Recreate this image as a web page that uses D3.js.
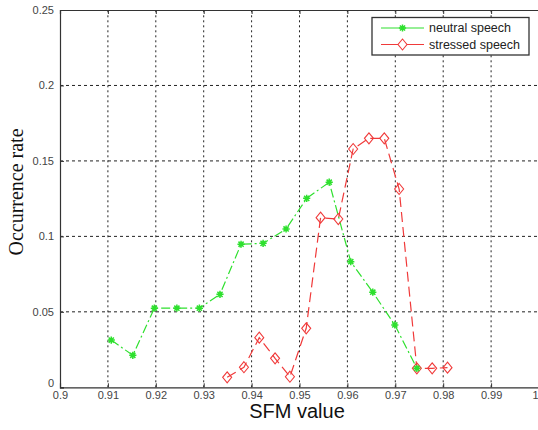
<!DOCTYPE html>
<html>
<head>
<meta charset="utf-8">
<script src="https://cdn.jsdelivr.net/npm/d3@7"></script>
<style>
  body { margin: 0; background: #fff; }
  svg { display: block; }
</style>
</head>
<body>
<div id="chart"></div>
<script>
// values
var neutralX = [0.9107, 0.9152, 0.9197, 0.9244, 0.9291, 0.9334, 0.9378, 0.9424, 0.9472, 0.9515, 0.9562, 0.9607, 0.9653, 0.9699, 0.9745]
var neutralY = [0.0313, 0.0212, 0.0524, 0.0524, 0.0524, 0.0616, 0.0948, 0.0954, 0.1049, 0.1252, 0.1359, 0.0832, 0.0630, 0.0413, 0.0126]
var stressedX = [0.9349, 0.9384, 0.9416, 0.9449, 0.9480, 0.9514, 0.9544, 0.9581, 0.9612, 0.9645, 0.9677, 0.9708, 0.9745, 0.9777, 0.9809]
var stressedY = [0.0066, 0.0133, 0.0329, 0.0192, 0.0070, 0.0391, 0.1124, 0.1115, 0.1579, 0.1650, 0.1650, 0.1314, 0.0126, 0.0126, 0.0130]
var xTicks = [0.9, 0.91, 0.92, 0.93, 0.94, 0.95, 0.96, 0.97, 0.98, 0.99, 1]
var yTicks = [0, 0.05, 0.1, 0.15, 0.2, 0.25]
var seriesNames = ["neutral speech", "stressed speech"]

var width = 538, height = 430
var green = "#2ee02e", red = "#f03a3a"

var svg = d3.select("#chart").append("svg")
    .attr("width", width)
    .attr("height", height)

var x = d3.scaleLinear().domain([0.9, 1.0]).range([60, 539])
var y = d3.scaleLinear().domain([0, 0.25]).range([387.3, 10])

// grid
svg.append("g").selectAll("line")
    .data(xTicks.slice(1, -1))
    .join("line")
    .attr("x1", d => x(d)).attr("x2", d => x(d))
    .attr("y1", y(0)).attr("y2", y(0.25))
    .attr("stroke", "#222").attr("stroke-width", 1)
    .attr("stroke-dasharray", "2,3")

svg.append("g").selectAll("line")
    .data(yTicks.slice(1, -1))
    .join("line")
    .attr("x1", x(0.9)).attr("x2", x(1))
    .attr("y1", d => y(d)).attr("y2", d => y(d))
    .attr("stroke", "#222").attr("stroke-width", 1)
    .attr("stroke-dasharray", "3,3")

// axes (ticks pointing inward like matlab)
var xAxis = svg.append("g")
    .attr("transform", "translate(0," + y(0) + ")")
    .call(d3.axisBottom(x).tickValues(xTicks).tickSize(-4).tickPadding(6)
        .tickFormat(d => d == 1 ? "1" : +d.toFixed(2)))
var xTop = svg.append("g")
    .attr("transform", "translate(0," + y(0.25) + ")")
    .call(d3.axisTop(x).tickValues(xTicks).tickSize(-4).tickFormat(""))
var yAxis = svg.append("g")
    .attr("transform", "translate(" + x(0.9) + ",0)")
    .call(d3.axisLeft(y).tickValues(yTicks).tickSize(-4).tickPadding(6)
        .tickFormat(d => d == 0 ? "0" : +d.toFixed(2)))

svg.selectAll(".domain").attr("stroke", "#333").attr("stroke-width", 1.2)
svg.selectAll(".tick line").attr("stroke", "#333")
svg.selectAll(".tick text")
    .attr("fill", "#444")
    .style("font-family", "'Liberation Sans', Arial, sans-serif")
    .style("font-size", "11px")
xAxis.selectAll(".tick text").attr("dy", "0.5em")
// last label sits on the window edge, keep it inside
xAxis.selectAll(".tick text").filter(d => d == 1)
    .attr("text-anchor", "end").attr("x", -1)
yAxis.selectAll(".tick text").filter(d => d == 0).attr("dy", "-0.1em")

// lines
var line = d3.line().x(d => x(d[0])).y(d => y(d[1]))
var neutral = d3.zip(neutralX, neutralY)
var stressed = d3.zip(stressedX, stressedY)

svg.append("path").datum(neutral)
    .attr("d", line).attr("fill", "none")
    .attr("stroke", green).attr("stroke-width", 1.2)
    .attr("stroke-dasharray", "9,3,2,3")

svg.append("path").datum(stressed)
    .attr("d", line).attr("fill", "none")
    .attr("stroke", red).attr("stroke-width", 1.2)
    .attr("stroke-dasharray", "10,5")

function starPath(r) {
    var a = r * 0.72
    return "M" + (-r) + ",0L" + r + ",0M0," + (-r) + "L0," + r +
        "M" + (-a) + "," + (-a) + "L" + a + "," + a +
        "M" + (-a) + "," + a + "L" + a + "," + (-a)
}
function diamondPath(w, h) {
    return "M0," + (-h) + "L" + w + ",0L0," + h + "L" + (-w) + ",0Z"
}

svg.append("g").selectAll("path")
    .data(stressed)
    .join("path")
    .attr("transform", d => "translate(" + x(d[0]) + "," + y(d[1]) + ")")
    .attr("d", diamondPath(4.5, 5.5))
    .attr("fill", "none").attr("stroke", red).attr("stroke-width", 1.1)

svg.append("g").selectAll("path")
    .data(neutral)
    .join("path")
    .attr("transform", d => "translate(" + x(d[0]) + "," + y(d[1]) + ")")
    .attr("d", starPath(3.6))
    .attr("fill", "none").attr("stroke", green).attr("stroke-width", 1.5)

// axis labels
svg.append("text")
    .attr("x", 297).attr("y", 418)
    .attr("text-anchor", "middle")
    .style("font-family", "'Liberation Sans', Arial, sans-serif")
    .style("font-size", "20px")
    .attr("fill", "#111")
    .text("SFM value")

svg.append("text")
    .attr("transform", "translate(23,192) rotate(-90)")
    .attr("text-anchor", "middle")
    .style("font-family", "'Liberation Serif', 'Times New Roman', serif")
    .style("font-size", "20px")
    .attr("fill", "#111")
    .text("Occurrence rate")

// legend
var legend = svg.append("g")
legend.append("rect")
    .attr("x", 372).attr("y", 17.5).attr("width", 157).attr("height", 37.5)
    .attr("fill", "#fff").attr("stroke", "#333").attr("stroke-width", 1.3)

var legendItems = [
    { name: seriesNames[0], color: green, marker: starPath(3.6), w: 1.5 },
    { name: seriesNames[1], color: red, marker: diamondPath(4.5, 5.5), w: 1.1 }
]
legendItems.forEach(function (item, i) {
    var ly = 28 + i * 16.5
    legend.append("line")
        .attr("x1", 381).attr("x2", 424).attr("y1", ly).attr("y2", ly)
        .attr("stroke", item.color).attr("stroke-width", 1.2)
    legend.append("path")
        .attr("transform", "translate(402.5," + ly + ")")
        .attr("d", item.marker)
        .attr("fill", i == 1 ? "#fff" : "none")
        .attr("stroke", item.color).attr("stroke-width", item.w)
    legend.append("text")
        .attr("x", 429).attr("y", ly + 4.3)
        .style("font-family", "'Liberation Sans', Arial, sans-serif")
        .style("font-size", "12.5px")
        .attr("fill", "#222")
        .text(item.name)
})
</script>
</body>
</html>
